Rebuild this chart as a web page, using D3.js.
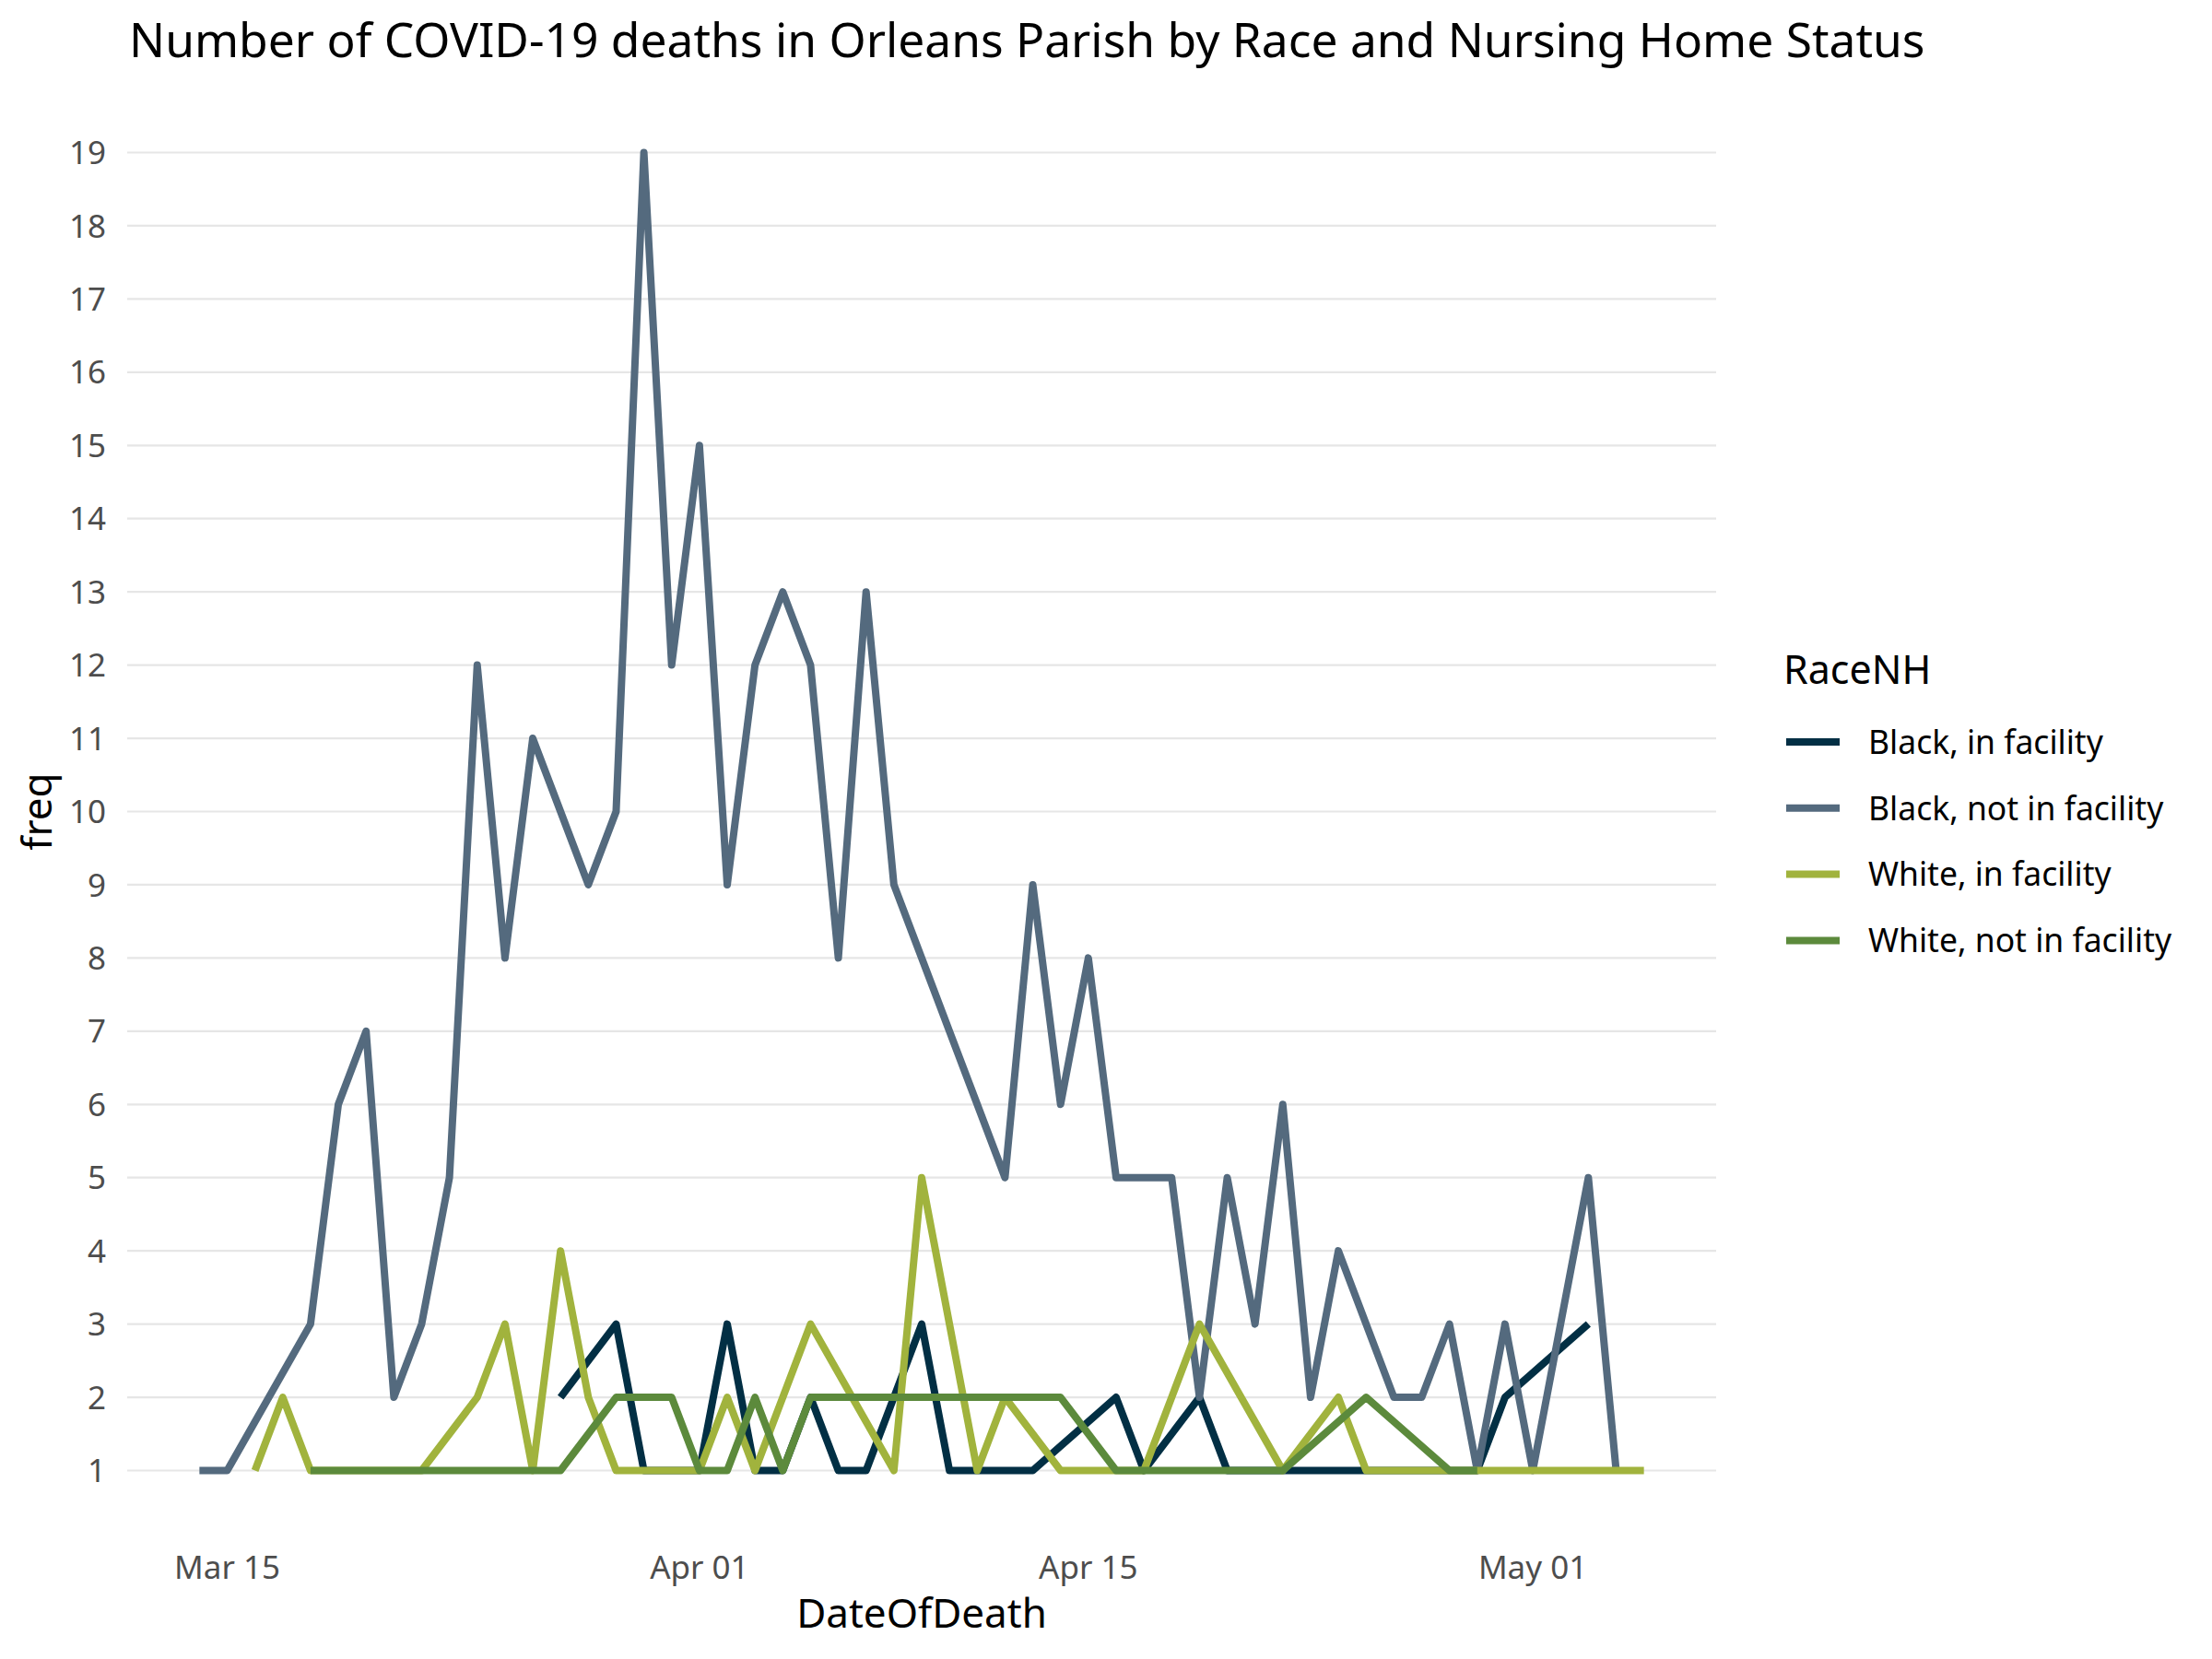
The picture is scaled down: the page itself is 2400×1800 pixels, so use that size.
<!DOCTYPE html>
<html>
<head>
<meta charset="utf-8">
<script src="https://cdn.jsdelivr.net/npm/d3@7"></script>
<style>
  html, body { margin: 0; padding: 0; background: #fff; }
  svg { display: block; font-family: "Noto Sans", "Open Sans", sans-serif; }
</style>
</head>
<body>
<div id="chart"></div>
<script>
// Daily COVID-19 deaths, Orleans Parish, 2020
const SERIES = ["Black, in facility", "Black, not in facility", "White, in facility", "White, not in facility"];
const COLORS = ["#022f44", "#546a7e", "#a1b33d", "#5c8a3c"];

const blackInFacility = [
  ["2020-03-27", 2], ["2020-03-29", 3], ["2020-03-30", 1], ["2020-03-31", 1], ["2020-04-01", 1],
  ["2020-04-02", 3], ["2020-04-03", 1], ["2020-04-04", 1], ["2020-04-05", 2], ["2020-04-06", 1],
  ["2020-04-07", 1], ["2020-04-08", 2], ["2020-04-09", 3], ["2020-04-10", 1], ["2020-04-11", 1],
  ["2020-04-12", 1], ["2020-04-13", 1], ["2020-04-16", 2], ["2020-04-17", 1], ["2020-04-19", 2],
  ["2020-04-20", 1], ["2020-04-21", 1], ["2020-04-22", 1], ["2020-04-23", 1], ["2020-04-24", 1],
  ["2020-04-25", 1], ["2020-04-29", 1], ["2020-04-30", 2], ["2020-05-03", 3]
];

const blackNotInFacility = [
  ["2020-03-14", 1], ["2020-03-15", 1], ["2020-03-18", 3], ["2020-03-19", 6], ["2020-03-20", 7],
  ["2020-03-21", 2], ["2020-03-22", 3], ["2020-03-23", 5], ["2020-03-24", 12], ["2020-03-25", 8],
  ["2020-03-26", 11], ["2020-03-27", 10], ["2020-03-28", 9], ["2020-03-29", 10], ["2020-03-30", 19],
  ["2020-03-31", 12], ["2020-04-01", 15], ["2020-04-02", 9], ["2020-04-03", 12], ["2020-04-04", 13],
  ["2020-04-05", 12], ["2020-04-06", 8], ["2020-04-07", 13], ["2020-04-08", 9], ["2020-04-09", 8],
  ["2020-04-10", 7], ["2020-04-11", 6], ["2020-04-12", 5], ["2020-04-13", 9], ["2020-04-14", 6],
  ["2020-04-15", 8], ["2020-04-16", 5], ["2020-04-17", 5], ["2020-04-18", 5], ["2020-04-19", 2],
  ["2020-04-20", 5], ["2020-04-21", 3], ["2020-04-22", 6], ["2020-04-23", 2], ["2020-04-24", 4],
  ["2020-04-25", 3], ["2020-04-26", 2], ["2020-04-27", 2], ["2020-04-28", 3], ["2020-04-29", 1],
  ["2020-04-30", 3], ["2020-05-01", 1], ["2020-05-02", 3], ["2020-05-03", 5], ["2020-05-04", 1]
];

const whiteInFacility = [
  ["2020-03-16", 1], ["2020-03-17", 2], ["2020-03-18", 1], ["2020-03-19", 1], ["2020-03-20", 1],
  ["2020-03-21", 1], ["2020-03-22", 1], ["2020-03-24", 2], ["2020-03-25", 3], ["2020-03-26", 1],
  ["2020-03-27", 4], ["2020-03-28", 2], ["2020-03-29", 1], ["2020-03-30", 1], ["2020-03-31", 1],
  ["2020-04-01", 1], ["2020-04-02", 2], ["2020-04-03", 1], ["2020-04-04", 2], ["2020-04-05", 3],
  ["2020-04-08", 1], ["2020-04-09", 5], ["2020-04-10", 3], ["2020-04-11", 1], ["2020-04-12", 2],
  ["2020-04-14", 1], ["2020-04-15", 1], ["2020-04-16", 1], ["2020-04-17", 1], ["2020-04-18", 2],
  ["2020-04-19", 3], ["2020-04-22", 1], ["2020-04-24", 2], ["2020-04-25", 1], ["2020-04-26", 1],
  ["2020-04-27", 1], ["2020-04-28", 1], ["2020-04-29", 1], ["2020-04-30", 1], ["2020-05-01", 1],
  ["2020-05-02", 1], ["2020-05-03", 1], ["2020-05-04", 1], ["2020-05-05", 1]
];

const whiteNotInFacility = [
  ["2020-03-18", 1], ["2020-03-19", 1], ["2020-03-20", 1], ["2020-03-21", 1], ["2020-03-22", 1],
  ["2020-03-23", 1], ["2020-03-24", 1], ["2020-03-25", 1], ["2020-03-26", 1], ["2020-03-27", 1],
  ["2020-03-29", 2], ["2020-03-30", 2], ["2020-03-31", 2], ["2020-04-01", 1], ["2020-04-02", 1],
  ["2020-04-03", 2], ["2020-04-04", 1], ["2020-04-05", 2], ["2020-04-06", 2], ["2020-04-07", 2],
  ["2020-04-08", 2], ["2020-04-09", 2], ["2020-04-10", 2], ["2020-04-11", 2], ["2020-04-12", 2],
  ["2020-04-13", 2], ["2020-04-14", 2], ["2020-04-16", 1], ["2020-04-17", 1], ["2020-04-18", 1],
  ["2020-04-19", 1], ["2020-04-20", 1], ["2020-04-21", 1], ["2020-04-22", 1], ["2020-04-25", 2],
  ["2020-04-28", 1], ["2020-04-29", 1]
];

const Y_TICKS = d3.range(1, 20);
const X_TICKS = ["2020-03-15", "2020-04-01", "2020-04-15", "2020-05-01"];

const W = 2400, H = 1800;
const panel = { left: 138, right: 1862, top: 94, bottom: 1667 };

const parse = d3.utcParse("%Y-%m-%d");
const allSeries = [blackInFacility, blackNotInFacility, whiteInFacility, whiteNotInFacility]
  .map((rows, i) => ({ name: SERIES[i], color: COLORS[i], rows: rows.map(([d, v]) => ({ date: parse(d), freq: v })) }));

// ggplot-style 5% expansion on both axes
const allRows = allSeries.flatMap((s) => s.rows);
const [dMin, dMax] = d3.extent(allRows, (d) => d.date);
const dPad = (dMax - dMin) * 0.05;
const [fMin, fMax] = d3.extent(allRows, (d) => d.freq);
const fPad = (fMax - fMin) * 0.05;

const x = d3.scaleUtc().domain([new Date(+dMin - dPad), new Date(+dMax + dPad)]).range([panel.left, panel.right]);
const y = d3.scaleLinear().domain([fMin - fPad, fMax + fPad]).range([panel.bottom, panel.top]);

const svg = d3.select("#chart").append("svg")
  .attr("width", W).attr("height", H).attr("viewBox", `0 0 ${W} ${H}`);

svg.append("rect").attr("width", W).attr("height", H).attr("fill", "#fff");

// horizontal grid only
svg.append("g").attr("class", "grid")
  .selectAll("line").data(Y_TICKS).enter().append("line")
  .attr("x1", panel.left).attr("x2", panel.right)
  .attr("y1", (d) => y(d)).attr("y2", (d) => y(d))
  .attr("stroke", "#e6e6e6").attr("stroke-width", 2.2);

// y axis labels
svg.append("g").attr("class", "y-axis")
  .selectAll("text").data(Y_TICKS).enter().append("text")
  .attr("x", 115).attr("y", (d) => y(d)).attr("dy", "0.36em")
  .attr("text-anchor", "end")
  .attr("font-size", 35).attr("fill", "#4d4d4d")
  .text((d) => d);

// x axis labels
const fmt = d3.utcFormat("%b %d");
svg.append("g").attr("class", "x-axis")
  .selectAll("text").data(X_TICKS.map(parse)).enter().append("text")
  .attr("x", (d) => x(d)).attr("y", 1713)
  .attr("text-anchor", "middle")
  .attr("font-size", 35).attr("fill", "#4d4d4d")
  .text(fmt);

// lines
const line = d3.line().x((d) => x(d.date)).y((d) => y(d.freq));
svg.append("g").attr("class", "lines")
  .selectAll("path").data(allSeries).enter().append("path")
  .attr("d", (s) => line(s.rows))
  .attr("fill", "none")
  .attr("stroke", (s) => s.color)
  .attr("stroke-width", 8)
  .attr("stroke-linejoin", "round")
  .attr("stroke-linecap", "butt");

// titles
svg.append("text")
  .attr("x", 140).attr("y", 62)
  .attr("font-size", 51.5).attr("fill", "#000")
  .text("Number of COVID-19 deaths in Orleans Parish by Race and Nursing Home Status");

svg.append("text")
  .attr("x", (panel.left + panel.right) / 2).attr("y", 1766)
  .attr("text-anchor", "middle")
  .attr("font-size", 44).attr("fill", "#000")
  .text("DateOfDeath");

svg.append("text")
  .attr("transform", `translate(56, ${(panel.top + panel.bottom) / 2}) rotate(-90)`)
  .attr("text-anchor", "middle")
  .attr("font-size", 44).attr("fill", "#000")
  .text("freq");

// legend
const legend = svg.append("g").attr("class", "legend").attr("transform", "translate(1935, 0)");
legend.append("text")
  .attr("x", 0).attr("y", 742)
  .attr("font-size", 43).attr("fill", "#000")
  .text("RaceNH");

const item = legend.selectAll("g.item").data(allSeries).enter().append("g")
  .attr("class", "item")
  .attr("transform", (d, i) => `translate(0, ${805 + i * 71.8})`);
item.append("line")
  .attr("x1", 3).attr("x2", 61).attr("y1", 0).attr("y2", 0)
  .attr("stroke", (d) => d.color).attr("stroke-width", 8);
item.append("text")
  .attr("x", 92).attr("y", 0).attr("dy", "0.36em")
  .attr("font-size", 35.5).attr("fill", "#000")
  .text((d) => d.name);
</script>
</body>
</html>
